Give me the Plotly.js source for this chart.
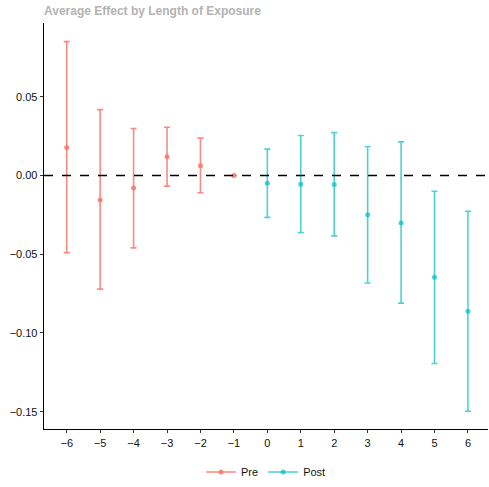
<!DOCTYPE html>
<html>
<head>
<meta charset="utf-8">
<script src="https://cdn.plot.ly/plotly-3.0.1.min.js"></script>
<style>html,body{margin:0;padding:0;background:#fff;}#chart{width:489px;height:487px;}</style>
</head>
<body>
<div id="chart"></div>
<script>
const preX = [-6, -5, -4, -3, -2, -1];
const preEst = [0.0178, -0.0156, -0.0080, 0.0119, 0.0062, 0.0000];
const preLow = [-0.0490, -0.0722, -0.0460, -0.0068, -0.0110, 0.0000];
const preHigh = [0.0850, 0.0418, 0.0298, 0.0306, 0.0237, 0.0000];

const postX = [0, 1, 2, 3, 4, 5, 6];
const postEst = [-0.0049, -0.0056, -0.0058, -0.0249, -0.0302, -0.0647, -0.0863];
const postLow = [-0.0266, -0.0363, -0.0384, -0.0683, -0.0811, -0.1194, -0.1497];
const postHigh = [0.0167, 0.0254, 0.0272, 0.0184, 0.0213, -0.0100, -0.0228];

const xTicks = [-6, -5, -4, -3, -2, -1, 0, 1, 2, 3, 4, 5, 6];
const yTicks = [-0.15, -0.10, -0.05, 0.00, 0.05];

const preCol = 'rgba(248,118,109,0.85)';
const postCol = 'rgba(0,191,196,0.7)';

function series(x, est, lo, hi, col, name) {
  return {
    x: x, y: est, type: 'scatter', mode: 'markers', name: name, showlegend: false,
    marker: {color: col, size: 5},
    error_y: {type: 'data', symmetric: false,
      array: hi.map((h, i) => h - est[i]),
      arrayminus: est.map((e, i) => e - lo[i]),
      color: col, thickness: 1.6, width: 3}
  };
}
function legendTrace(col, name) {
  return {x: [null], y: [null], type: 'scatter', mode: 'lines+markers', name: name,
    line: {color: col, width: 1.6}, marker: {color: col, size: 5}};
}

const data = [
  series(preX, preEst, preLow, preHigh, preCol, 'Pre'),
  series(postX, postEst, postLow, postHigh, postCol, 'Post'),
  legendTrace(preCol, 'Pre'),
  legendTrace(postCol, 'Post')
];

const layout = {
  width: 489, height: 487,
  margin: {l: 44, r: 1, t: 23, b: 55},
  paper_bgcolor: '#fff', plot_bgcolor: '#fff',
  font: {family: 'Liberation Sans, Arial, sans-serif', size: 11, color: '#111'},
  title: {text: '<b>Average Effect by Length of Exposure</b>', x: 0, xanchor: 'left', xref: 'paper',
    y: 1 - 11/487, yanchor: 'middle', font: {size: 12, color: '#b3b3b3'}},
  xaxis: {range: [-6.68, 6.6], tickvals: xTicks, ticktext: xTicks.map(v => v < 0 ? '\u2212' + Math.abs(v) : String(v)),
    showgrid: false, zeroline: false, showline: true, linecolor: '#000', linewidth: 1.3,
    ticks: 'outside', ticklen: 3, tickcolor: '#333', tickfont: {size: 11, color: '#111'}},
  yaxis: {range: [-0.161, 0.0968], tickvals: yTicks, tickformat: '.2f',
    showgrid: false, zeroline: false, showline: true, linecolor: '#000', linewidth: 1.3,
    ticks: 'outside', ticklen: 3, tickcolor: '#333', tickfont: {size: 11, color: '#111'}},
  shapes: [{type: 'line', xref: 'paper', x0: 0, x1: 1, yref: 'y', y0: 0, y1: 0,
    line: {color: '#000', width: 1.4, dash: 'dash'}}],
  showlegend: true,
  legend: {orientation: 'h', x: 0.5, xanchor: 'center', y: -0.106, yanchor: 'middle',
    font: {size: 11, color: '#111'}, bgcolor: 'rgba(0,0,0,0)'}
};

Plotly.newPlot('chart', data, layout, {displayModeBar: false, staticPlot: true});
</script>
</body>
</html>
